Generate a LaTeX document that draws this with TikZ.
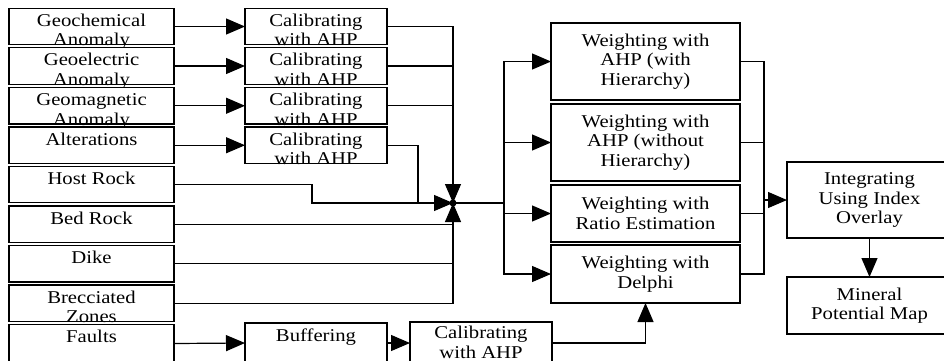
\documentclass[tikz,border=0pt]{standalone}
\usepackage{fontspec}
\setmainfont{Liberation Serif}[FakeStretch=1.15]
\usetikzlibrary{arrows.meta}
\newcommand{\topbox}[4][18pt]{\parbox[c][#3][t]{#2}{\centering\rule{0pt}{#1}#4\par}}
\begin{document}
\begin{tikzpicture}[x=1pt,y=-1pt,
  font=\fontsize{18}{19.5}\selectfont,
  line width=1.2pt,
  box/.style={draw=black, fill=white, inner sep=0pt, outer sep=0pt},
  wbox/.style={draw=black, fill=white, inner sep=0pt, outer sep=0pt, align=center, minimum width=189pt},
  arr/.style={-{Triangle[length=19pt,width=16pt]}},
]
\useasboundingbox (0,0) rectangle (944,360);
% left column
\node[box] (g1) at (91.5,26.5) {\topbox{165pt}{36.5pt}{Geochemical\\Anomaly}};
\node[box] (g2) at (91.5,66) {\topbox{165pt}{36.5pt}{Geoelectric\\Anomaly}};
\node[box] (g3) at (91.5,105.75) {\topbox{165pt}{36.5pt}{Geomagnetic\\Anomaly}};
\node[box] (g4) at (91.5,145.25) {\topbox{165pt}{36.5pt}{Alterations}};
\node[box] (host) at (91.5,184.5) {\topbox{165pt}{36.5pt}{Host Rock}};
\node[box] (bed) at (91.5,224.25) {\topbox{165pt}{36.5pt}{Bed Rock}};
\node[box] (dike) at (91.5,263.75) {\topbox{165pt}{36.5pt}{Dike}};
\node[box] (brec) at (91.5,303.25) {\topbox{165pt}{36.5pt}{Brecciated\\Zones}};
\node[box] (fault) at (91.5,343.5) {\topbox{165pt}{38pt}{Faults}};
% calibrating column
\node[box] (c1) at (316,26.5) {\topbox{142pt}{36.5pt}{Calibrating\\with AHP}};
\node[box] (c2) at (316,66) {\topbox{142pt}{36.5pt}{Calibrating\\with AHP}};
\node[box] (c3) at (316,105.75) {\topbox{142pt}{36.5pt}{Calibrating\\with AHP}};
\node[box] (c4) at (316,145.25) {\topbox{142pt}{36.5pt}{Calibrating\\with AHP}};
\node[box] (buf) at (316,343) {\topbox{142pt}{40pt}{Buffering}};
\node[box] (cb) at (481,343) {\topbox[16.5pt]{142pt}{42pt}{Calibrating\\with AHP}};
% weighting column
\node[wbox, minimum height=77pt] (w1) at (645.5,61.5) {Weighting with\\AHP (with\\Hierarchy)};
\node[wbox, minimum height=77pt] (w2) at (645.5,142.5) {Weighting with\\AHP (without\\Hierarchy)};
\node[wbox, minimum height=57pt] (w3) at (645.5,213.5) {Weighting with\\Ratio Estimation};
\node[wbox, minimum height=58pt] (w4) at (645.5,274) {Weighting with\\Delphi};
% right column
\node[wbox, minimum width=165pt, minimum height=76pt] (int) at (869.5,200) {Integrating\\Using Index\\Overlay};
\node[wbox, minimum width=165pt, minimum height=57pt] (min) at (869.5,305.5) {Mineral\\Potential Map};
% coordinates
\coordinate (J) at (453,203);
\coordinate (M) at (418,203);
\coordinate (S) at (504,203);
\coordinate (R) at (764,200);
% connectors left
\draw[arr] (g1.east) -- (c1.west);
\draw[arr] (g2.east) -- (c2.west);
\draw[arr] (g3.east) -- (c3.west);
\draw[arr] (g4.east) -- (c4.west);
\draw (c2.east) -- (c2.east -| J);
\draw (c3.east) -- (c3.east -| J);
\draw[arr] (c1.east) -| (J);
\draw (host.east) -| (312,203) -- (M);
\draw[arr] (c4.east) -| (M) -- (J);
\draw (brec.east) -| (J |- bed.east);
\draw (dike.east) -- (dike.east -| J);
\draw[arr] (bed.east) -| (J);
\draw[arr] (fault.east) -- (buf.west);
\draw[arr] (buf.east) -- (cb.west);
\draw[arr] (cb.east) -| (w4.south);
% connectors middle
\draw (J) -- (S);
\draw[arr] (S) |- (w1.west);
\draw[arr] (S) |- (w2.west);
\draw[arr] (S) |- (w3.west);
\draw[arr] (S) |- (w4.west);
% connectors right
\draw (w1.east) -| (R);
\draw (w4.east) -| (R);
\draw (w2.east) -- (w2.east -| R);
\draw (w3.east) -- (w3.east -| R);
\draw[arr] (R) -- (int.west);
\draw[arr] (int.south) -- (min.north);
\fill (J) circle (3.5pt);
\end{tikzpicture}
\end{document}
